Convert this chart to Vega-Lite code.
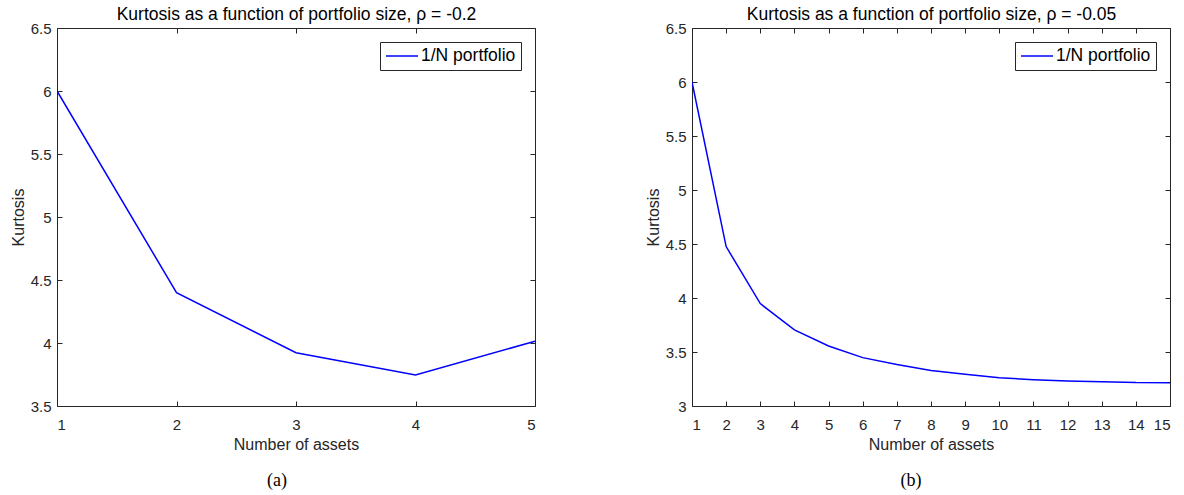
{
  "$schema": "https://vega.github.io/schema/vega-lite/v6.json",
  "padding": {"left": 10, "top": 5, "right": 5, "bottom": 5},
  "background": "white",
  "config": {
    "font": "Liberation Sans",
    "view": {"stroke": null},
    "axis": {
      "domainColor": "#262626", "domainWidth": 1,
      "tickColor": "#262626", "tickSize": -5, "tickWidth": 1,
      "labelColor": "#262626", "labelFontSize": 15, "labelFont": "Liberation Sans",
      "titleColor": "#262626", "titleFontSize": 16, "titleFontWeight": "normal", "titleFont": "Liberation Sans",
      "grid": false
    },
    "legend": {
      "orient": "top-right", "offset": 14, "strokeColor": "#262626", "fillColor": "white",
      "padding": 5, "symbolType": "M-1,0H3", "symbolSize": 256, "symbolStrokeWidth": 1.5,
      "labelFontSize": 17.5, "labelFont": "Liberation Sans", "labelColor": "#000000", "labelOffset": 18,
      "cornerRadius": 0
    },
    "title": {"font": "Liberation Serif", "fontSize": 18, "fontWeight": "normal", "color": "#000000"}
  },
  "hconcat": [
    {
      "width": 478, "height": 378,
      "title": {"text": "(a)", "orient": "bottom", "anchor": "middle", "dx": -19, "offset": 20},
      "data": {"values": [
        {"n": 1, "k": 6.0, "series": "1/N portfolio"},
        {"n": 2, "k": 4.40, "series": "1/N portfolio"},
        {"n": 3, "k": 3.923, "series": "1/N portfolio"},
        {"n": 4, "k": 3.746, "series": "1/N portfolio"},
        {"n": 5, "k": 4.014, "series": "1/N portfolio"}
      ]},
      "layer": [
        {
          "mark": {"type": "line", "strokeWidth": 1.5, "clip": true},
          "encoding": {
            "x": {"field": "n", "type": "quantitative", "scale": {"domain": [1, 5], "nice": false, "zero": false},
                  "axis": {"orient": "bottom", "title": "Number of assets", "values": [1, 2, 3, 4, 5], "labelPadding": 16, "titlePadding": 4}},
            "y": {"field": "k", "type": "quantitative", "scale": {"domain": [3.5, 6.5], "nice": false, "zero": false},
                  "axis": {"orient": "left", "title": "Kurtosis", "values": [3.5, 4, 4.5, 5, 5.5, 6, 6.5], "format": "~g", "labelPadding": 11, "titlePadding": 4}},
            "color": {"field": "series", "type": "nominal", "scale": {"domain": ["1/N portfolio"], "range": ["#0000ff"]}, "legend": {"title": null}}
          }
        },
        {
          "mark": {"type": "line", "opacity": 0},
          "encoding": {
            "x": {"field": "n", "type": "quantitative",
                  "axis": {"orient": "top", "title": "Kurtosis as a function of portfolio size, ρ = -0.2", "values": [1, 2, 3, 4, 5], "labels": false, "titlePadding": 4, "titleColor": "#000000", "titleFontSize": 17.5}},
            "y": {"field": "k", "type": "quantitative",
                  "axis": {"orient": "right", "title": null, "values": [3.5, 4, 4.5, 5, 5.5, 6, 6.5], "labels": false}}
          }
        }
      ],
      "resolve": {"axis": {"x": "independent", "y": "independent"}}
    },
    {
      "width": 478, "height": 378,
      "title": {"text": "(b)", "orient": "bottom", "anchor": "middle", "dx": -20, "offset": 20},
      "data": {"values": [
        {"n": 1, "k": 6.0, "series": "1/N portfolio"},
        {"n": 2, "k": 4.476, "series": "1/N portfolio"},
        {"n": 3, "k": 3.948, "series": "1/N portfolio"},
        {"n": 4, "k": 3.704, "series": "1/N portfolio"},
        {"n": 5, "k": 3.556, "series": "1/N portfolio"},
        {"n": 6, "k": 3.448, "series": "1/N portfolio"},
        {"n": 7, "k": 3.384, "series": "1/N portfolio"},
        {"n": 8, "k": 3.329, "series": "1/N portfolio"},
        {"n": 9, "k": 3.293, "series": "1/N portfolio"},
        {"n": 10, "k": 3.262, "series": "1/N portfolio"},
        {"n": 11, "k": 3.244, "series": "1/N portfolio"},
        {"n": 12, "k": 3.232, "series": "1/N portfolio"},
        {"n": 13, "k": 3.225, "series": "1/N portfolio"},
        {"n": 14, "k": 3.217, "series": "1/N portfolio"},
        {"n": 15, "k": 3.216, "series": "1/N portfolio"}
      ]},
      "layer": [
        {
          "mark": {"type": "line", "strokeWidth": 1.5, "clip": true},
          "encoding": {
            "x": {"field": "n", "type": "quantitative", "scale": {"domain": [1, 15], "nice": false, "zero": false},
                  "axis": {"orient": "bottom", "title": "Number of assets", "values": [1, 2, 3, 4, 5, 6, 7, 8, 9, 10, 11, 12, 13, 14, 15], "labelPadding": 16, "titlePadding": 4}},
            "y": {"field": "k", "type": "quantitative", "scale": {"domain": [3, 6.5], "nice": false, "zero": false},
                  "axis": {"orient": "left", "title": "Kurtosis", "values": [3, 3.5, 4, 4.5, 5, 5.5, 6, 6.5], "format": "~g", "labelPadding": 11, "titlePadding": 4}},
            "color": {"field": "series", "type": "nominal", "scale": {"domain": ["1/N portfolio"], "range": ["#0000ff"]}, "legend": {"title": null}}
          }
        },
        {
          "mark": {"type": "line", "opacity": 0},
          "encoding": {
            "x": {"field": "n", "type": "quantitative",
                  "axis": {"orient": "top", "title": "Kurtosis as a function of portfolio size, ρ = -0.05", "values": [1, 2, 3, 4, 5, 6, 7, 8, 9, 10, 11, 12, 13, 14, 15], "labels": false, "titlePadding": 4, "titleColor": "#000000", "titleFontSize": 17.5}},
            "y": {"field": "k", "type": "quantitative",
                  "axis": {"orient": "right", "title": null, "values": [3, 3.5, 4, 4.5, 5, 5.5, 6, 6.5], "labels": false}}
          }
        }
      ],
      "resolve": {"axis": {"x": "independent", "y": "independent"}, "scale": {"color": "independent"}}
    }
  ],
  "spacing": 109,
  "resolve": {"legend": {"color": "independent"}}
}
